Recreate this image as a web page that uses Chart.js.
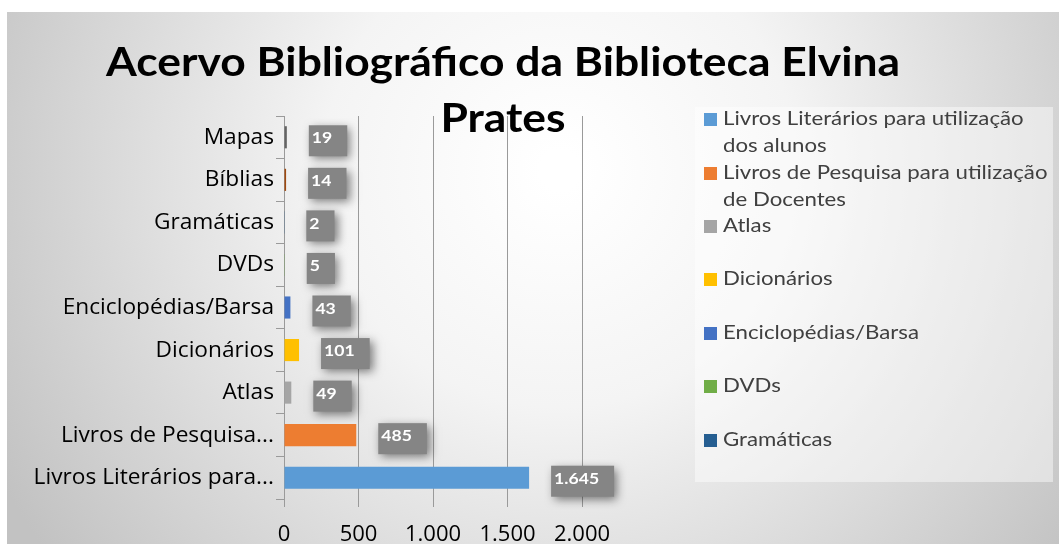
<!DOCTYPE html>
<html lang="pt">
<head>
  <meta charset="utf-8">
  <script src="https://cdn.jsdelivr.net/npm/chart.js@4.4.0/dist/chart.umd.min.js"></script>
  <style>
    html, body { margin: 0; padding: 0; background: #ffffff; }
    #wrap { position: relative; width: 1059px; height: 544px; }
  </style>
</head>
<body>
  <div id="wrap">
    <canvas id="chart" width="1059" height="544"></canvas>
  </div>

  <script>
    // dados do gráfico (de baixo para cima)
    const categories = [
      'Livros Literários para utilização dos alunos',
      'Livros de Pesquisa para utilização de Docentes',
      'Atlas',
      'Dicionários',
      'Enciclopédias/Barsa',
      'DVDs',
      'Gramáticas',
      'Bíblias',
      'Mapas'
    ];
    const tickLabels = [
      'Livros Literários para...',
      'Livros de Pesquisa...',
      'Atlas',
      'Dicionários',
      'Enciclopédias/Barsa',
      'DVDs',
      'Gramáticas',
      'Bíblias',
      'Mapas'
    ];
    const values = [1645, 485, 49, 101, 43, 5, 2, 14, 19];
    const valueLabels = ['1.645', '485', '49', '101', '43', '5', '2', '14', '19'];
    const xTicks = [0, 500, 1000, 1500, 2000];
    const legendLines = [
      ['Livros Literários para utilização', 'dos alunos'],
      ['Livros de Pesquisa para utilização', 'de Docentes'],
      ['Atlas'],
      ['Dicionários'],
      ['Enciclopédias/Barsa'],
      ['DVDs'],
      ['Gramáticas']
    ];
    const titleLines = ['Acervo Bibliográfico da Biblioteca Elvina', 'Prates'];

    const colors = ['#5B9BD5', '#ED7D31', '#A5A5A5', '#FFC000', '#4472C4', '#70AD47', '#255E91', '#9E480E', '#636363'];

    // texto um pouco esticado na horizontal, como no original
    function stretchText(ctx, txt, x, y, sx) {
      ctx.save();
      ctx.translate(x, y);
      ctx.scale(sx, 1);
      ctx.fillText(txt, 0, 0);
      ctx.restore();
    }

    const bgPlugin = {
      id: 'bg',
      beforeDraw(chart) {
        const ctx = chart.ctx;
        ctx.save();
        const g = ctx.createRadialGradient(560, 170, 20, 560, 170, 640);
        g.addColorStop(0, '#ffffff');
        g.addColorStop(0.35, '#f4f4f4');
        g.addColorStop(1, '#c2c2c2');
        ctx.fillStyle = g;
        ctx.fillRect(7, 12, 1052, 532);
        ctx.restore();
      }
    };

    const labelPlugin = {
      id: 'valueLabels',
      afterDatasetsDraw(chart) {
        const ctx = chart.ctx;
        const meta = chart.getDatasetMeta(0);
        ctx.save();
        ctx.font = 'bold 16px Lato';
        meta.data.forEach((bar, i) => {
          const txt = valueLabels[i];
          const w = ctx.measureText(txt).width * 1.1;
          const x0 = bar.x + 22;
          const y0 = bar.y - 12;
          ctx.shadowColor = 'rgba(0,0,0,0.5)';
          ctx.shadowBlur = 9;
          ctx.shadowOffsetX = 3;
          ctx.shadowOffsetY = 3;
          ctx.fillStyle = '#858585';
          ctx.fillRect(x0, y0, w + 18, 31);
          ctx.shadowColor = 'transparent';
          ctx.fillStyle = '#ffffff';
          ctx.textAlign = 'left';
          ctx.textBaseline = 'middle';
          stretchText(ctx, txt, x0 + 3, bar.y + 1, 1.1);
        });
        ctx.restore();
      }
    };

    const decorPlugin = {
      id: 'decor',
      afterDraw(chart) {
        const ctx = chart.ctx;
        ctx.save();
        // título
        ctx.fillStyle = '#000000';
        ctx.font = 'bold 40px Lato';
        ctx.textAlign = 'center';
        ctx.textBaseline = 'alphabetic';
        stretchText(ctx, titleLines[0], 503, 76, 1.11);
        stretchText(ctx, titleLines[1], 503, 132, 1.11);

        // legenda
        ctx.fillStyle = 'rgba(255,255,255,0.45)';
        ctx.fillRect(695, 107, 358, 375);
        ctx.font = '19px Lato';
        ctx.textAlign = 'left';
        ctx.textBaseline = 'middle';
        const rows = [119, 173, 226, 279, 333, 386, 440];
        legendLines.forEach((lines, i) => {
          const y = rows[i];
          ctx.fillStyle = colors[i];
          ctx.fillRect(704, y - 6, 13, 13);
          ctx.fillStyle = '#404040';
          lines.forEach((t, k) => stretchText(ctx, t, 723, y + k * 27, 1.17));
        });
        ctx.restore();
      }
    };

    new Chart(document.getElementById('chart'), {
      type: 'bar',
      data: {
        labels: categories,
        datasets: [{
          data: values,
          backgroundColor: colors,
          barPercentage: 0.52,
          categoryPercentage: 1
        }]
      },
      options: {
        indexAxis: 'y',
        responsive: false,
        animation: false,
        layout: { padding: { top: 116, right: 477, bottom: 0, left: 0 } },
        plugins: {
          legend: { display: false },
          title: { display: false },
          tooltip: { enabled: false }
        },
        scales: {
          x: {
            min: 0,
            max: 2000,
            afterFit(scale) { scale.height = 45; },
            afterBuildTicks(scale) { scale.ticks = xTicks.map(v => ({ value: v })); },
            border: { display: false },
            grid: { color: '#9a9a9a', lineWidth: 1, tickLength: 8, drawTicks: true },
            ticks: {
              color: '#000000',
              font: { family: 'Open Sans', size: 22 },
              padding: 15,
              callback: v => v.toLocaleString('pt-BR')
            }
          },
          y: {
            reverse: true,
            afterFit(scale) { scale.width = 284; },
            border: { display: true, color: '#9a9a9a' },
            grid: { display: true, drawOnChartArea: false, color: '#9a9a9a', tickLength: 8, offset: true },
            ticks: {
              color: '#000000',
              font: { family: 'Open Sans', size: 22.7 },
              padding: 2,
              callback: (v, i) => tickLabels[i]
            }
          }
        }
      },
      plugins: [bgPlugin, labelPlugin, decorPlugin]
    });
  </script>
</body>
</html>
